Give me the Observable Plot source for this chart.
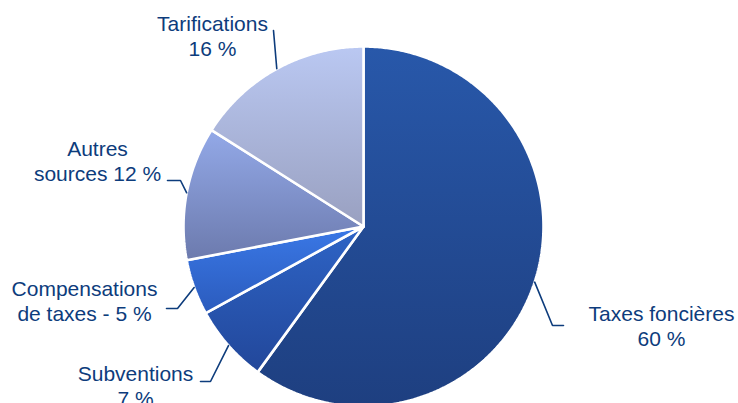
<!DOCTYPE html>
<html>
<head>
<meta charset="utf-8">
<script src="https://cdn.jsdelivr.net/npm/d3@7"></script>
<script src="https://cdn.jsdelivr.net/npm/@observablehq/plot@0.6"></script>
<style>
  html, body { margin: 0; padding: 0; background: #fff; overflow: hidden; }
  #chart svg { display: block; overflow: hidden; }
</style>
</head>
<body>
<div id="chart"></div>
<script>
// ---- data ----
const categories = ["Taxes foncières", "Subventions", "Compensations de taxes", "Autres sources", "Tarifications"];
const shares = [60, 7, 5, 12, 16];
const labelLines = [
  ["Taxes foncières", "60 %"],
  ["Subventions", "7 %"],
  ["Compensations", "de taxes - 5 %"],
  ["Autres", "sources 12 %"],
  ["Tarifications", "16 %"]
];
const gradTop = ["#2858aa", "#2e64c6", "#3a78e6", "#93a9e8", "#bac8f2"];
const gradBottom = ["#1e3f80", "#22479a", "#2b5bbd", "#6c7aad", "#99a0c0"];

// ---- layout ----
const W = 738, H = 403;
const cx = 363, cy = 226, R = 180;
const textColor = "#0d3c7c";
// label placement: text centre x, first baseline y, leader elbow and end
const labelLayout = [
  {tx: 661, ty: 320, elbow: [552, 325], end: [563, 325]},
  {tx: 135, ty: 380, elbow: [210, 381], end: [200, 381]},
  {tx: 84, ty: 295, elbow: [177, 308], end: [166, 308]},
  {tx: 97, ty: 155, elbow: [180, 180], end: [167, 180]},
  {tx: 212, ty: 30, elbow: [273, 30], end: [273, 30]}
];

const pie = d3.pie().sort(null).value(d => d.share);
const rows = categories.map((c, i) => ({category: c, share: shares[i], i}));
const arcs = pie(rows);

// slice outlines as point sequences (angle clockwise from top)
const pt = (a, r) => [cx + r * Math.sin(a), cy - r * Math.cos(a)];
const slicePts = [];
arcs.forEach(a => {
  const id = a.data.i;
  slicePts.push({id, x: cx, y: cy});
  const n = Math.max(4, Math.ceil((a.endAngle - a.startAngle) / (Math.PI / 360)));
  for (let k = 0; k <= n; k++) {
    const ang = a.startAngle + (a.endAngle - a.startAngle) * k / n;
    const [x, y] = pt(ang, R);
    slicePts.push({id, x, y});
  }
  slicePts.push({id, x: cx, y: cy});
});

// leader lines
const leaderPts = [];
arcs.forEach(a => {
  const id = a.data.i;
  const mid = (a.startAngle + a.endAngle) / 2;
  const [x0, y0] = pt(mid, R);
  const L = labelLayout[id];
  leaderPts.push({id, x: x0, y: y0});
  leaderPts.push({id, x: L.elbow[0], y: L.elbow[1]});
  leaderPts.push({id, x: L.end[0], y: L.end[1]});
});

// label text rows
const labelRows = [];
labelLines.forEach((lines, i) => {
  lines.forEach((t, j) => labelRows.push({text: t, x: labelLayout[i].tx, y: labelLayout[i].ty + j * 25}));
});

const plot = Plot.plot({
  width: W, height: H,
  margin: 0,
  x: {domain: [0, W], range: [0, W], axis: null},
  y: {domain: [0, H], range: [0, H], axis: null},
  color: {type: "identity"},
  style: {background: "white", fontFamily: "'Liberation Sans', Arial, sans-serif"},
  marks: [
    Plot.line(slicePts, {x: "x", y: "y", z: "id", fill: d => `url(#slice-grad-${d.id})`, stroke: "white", strokeWidth: 2.6, strokeLinejoin: "miter", curve: "linear"}),
    Plot.line(leaderPts, {x: "x", y: "y", z: "id", stroke: textColor, strokeWidth: 1.6, strokeLinejoin: "miter"}),
    Plot.text(labelRows, {x: "x", y: "y", text: "text", fill: textColor, fontSize: 21, textAnchor: "middle", lineAnchor: "bottom", dy: 0})
  ]
});

// gradient definitions
const svg = d3.select(plot);
const defs = svg.insert("defs", ":first-child");
gradTop.forEach((c, i) => {
  const g = defs.append("linearGradient").attr("id", `slice-grad-${i}`)
    .attr("x1", 0).attr("y1", 0).attr("x2", 0).attr("y2", 1);
  g.append("stop").attr("offset", "0%").attr("stop-color", c);
  g.append("stop").attr("offset", "100%").attr("stop-color", gradBottom[i]);
});

document.getElementById("chart").appendChild(plot);
</script>
</body>
</html>
